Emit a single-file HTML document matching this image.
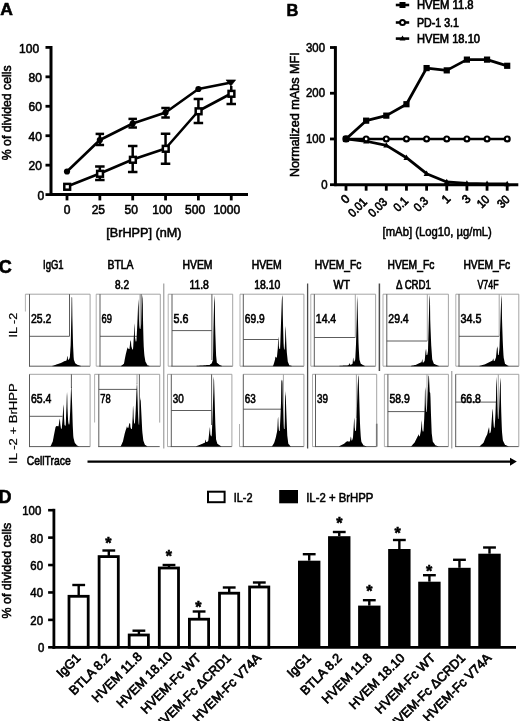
<!DOCTYPE html>
<html lang="en"><head><meta charset="utf-8"><title>Figure</title>
<style>html,body{margin:0;padding:0;background:#fff}svg{display:block}text{font-family:"Liberation Sans", sans-serif;fill:#000;stroke:#000;stroke-width:0.55px}.c text{stroke-width:0.65px}text.b{stroke-width:0.68px}text.g{stroke-width:0.62px}.c text.t{stroke-width:0.2px}</style></head><body>
<svg width="520" height="721" viewBox="0 0 520 721">
<rect width="520" height="721" fill="#fff"/>
<g id="panelA">
<text transform="translate(0.3,15) scale(1.12,1)" font-size="15.6" font-weight="bold">A</text>
<line x1="51" y1="46.0" x2="51" y2="196.0" stroke="#000" stroke-width="3"/>
<line x1="50" y1="194.6" x2="248" y2="194.6" stroke="#000" stroke-width="3"/>
<line x1="45.5" y1="194.6" x2="51" y2="194.6" stroke="#000" stroke-width="2.8"/>
<text transform="translate(44.3,199.7)" font-size="12" text-anchor="end">0</text>
<line x1="45.5" y1="165.16" x2="51" y2="165.16" stroke="#000" stroke-width="2.8"/>
<text transform="translate(41.9,170.26)" font-size="12" text-anchor="end">20</text>
<line x1="45.5" y1="135.72" x2="51" y2="135.72" stroke="#000" stroke-width="2.8"/>
<text transform="translate(41.9,140.82)" font-size="12" text-anchor="end">40</text>
<line x1="45.5" y1="106.28" x2="51" y2="106.28" stroke="#000" stroke-width="2.8"/>
<text transform="translate(41.9,111.38)" font-size="12" text-anchor="end">60</text>
<line x1="45.5" y1="76.84" x2="51" y2="76.84" stroke="#000" stroke-width="2.8"/>
<text transform="translate(41.9,81.94)" font-size="12" text-anchor="end">80</text>
<line x1="45.5" y1="47.400000000000006" x2="51" y2="47.400000000000006" stroke="#000" stroke-width="2.8"/>
<text transform="translate(39.1,52.5)" font-size="12" text-anchor="end">100</text>
<line x1="67.0" y1="194.6" x2="67.0" y2="200.4" stroke="#000" stroke-width="2.8"/>
<text transform="translate(67.0,214.3)" font-size="12" text-anchor="middle">0</text>
<line x1="99.85" y1="194.6" x2="99.85" y2="200.4" stroke="#000" stroke-width="2.8"/>
<text transform="translate(98.35,214.3)" font-size="12" text-anchor="middle">25</text>
<line x1="132.7" y1="194.6" x2="132.7" y2="200.4" stroke="#000" stroke-width="2.8"/>
<text transform="translate(131.2,214.3)" font-size="12" text-anchor="middle">50</text>
<line x1="165.55" y1="194.6" x2="165.55" y2="200.4" stroke="#000" stroke-width="2.8"/>
<text transform="translate(162.25,214.3)" font-size="12" text-anchor="middle">100</text>
<line x1="198.4" y1="194.6" x2="198.4" y2="200.4" stroke="#000" stroke-width="2.8"/>
<text transform="translate(195.1,214.3)" font-size="12" text-anchor="middle">500</text>
<line x1="231.25" y1="194.6" x2="231.25" y2="200.4" stroke="#000" stroke-width="2.8"/>
<text transform="translate(226.75,214.3)" font-size="12" text-anchor="middle">1000</text>
<text transform="translate(106.3,236.5)" font-size="12.8" textLength="75.2" lengthAdjust="spacingAndGlyphs">[BrHPP] (nM)</text>
<text transform="translate(11.2,112.8) rotate(-90)" font-size="12.3" text-anchor="middle">% of divided cells</text>
<polyline points="67.0,171.5 99.85,140 132.7,123.5 165.55,112.5 198.4,89 231.25,82.5" fill="none" stroke="#000" stroke-width="2.6" stroke-linejoin="round"/>
<polyline points="67.0,186.5 99.85,173.5 132.7,159.5 165.55,148.5 198.4,111 231.25,93.5" fill="none" stroke="#000" stroke-width="2.6" stroke-linejoin="round"/>
<line x1="99.85" y1="133.9" x2="99.85" y2="145" stroke="#000" stroke-width="2.5"/>
<line x1="95.6" y1="133.9" x2="104.1" y2="133.9" stroke="#000" stroke-width="2.5"/>
<line x1="95.6" y1="145" x2="104.1" y2="145" stroke="#000" stroke-width="2.5"/>
<line x1="132.7" y1="118.9" x2="132.7" y2="127.5" stroke="#000" stroke-width="2.5"/>
<line x1="128.45" y1="118.9" x2="136.95" y2="118.9" stroke="#000" stroke-width="2.5"/>
<line x1="128.45" y1="127.5" x2="136.95" y2="127.5" stroke="#000" stroke-width="2.5"/>
<line x1="165.55" y1="108" x2="165.55" y2="117.5" stroke="#000" stroke-width="2.5"/>
<line x1="161.3" y1="108" x2="169.8" y2="108" stroke="#000" stroke-width="2.5"/>
<line x1="161.3" y1="117.5" x2="169.8" y2="117.5" stroke="#000" stroke-width="2.5"/>
<line x1="99.85" y1="166.5" x2="99.85" y2="180" stroke="#000" stroke-width="2.5"/>
<line x1="95.1" y1="166.5" x2="104.6" y2="166.5" stroke="#000" stroke-width="2.5"/>
<line x1="95.1" y1="180" x2="104.6" y2="180" stroke="#000" stroke-width="2.5"/>
<line x1="132.7" y1="146" x2="132.7" y2="172" stroke="#000" stroke-width="2.5"/>
<line x1="127.94999999999999" y1="146" x2="137.45" y2="146" stroke="#000" stroke-width="2.5"/>
<line x1="127.94999999999999" y1="172" x2="137.45" y2="172" stroke="#000" stroke-width="2.5"/>
<line x1="165.55" y1="133.75" x2="165.55" y2="163.75" stroke="#000" stroke-width="2.5"/>
<line x1="160.8" y1="133.75" x2="170.3" y2="133.75" stroke="#000" stroke-width="2.5"/>
<line x1="160.8" y1="163.75" x2="170.3" y2="163.75" stroke="#000" stroke-width="2.5"/>
<line x1="198.4" y1="99" x2="198.4" y2="123" stroke="#000" stroke-width="2.5"/>
<line x1="193.65" y1="99" x2="203.15" y2="99" stroke="#000" stroke-width="2.5"/>
<line x1="193.65" y1="123" x2="203.15" y2="123" stroke="#000" stroke-width="2.5"/>
<line x1="231.25" y1="86" x2="231.25" y2="104" stroke="#000" stroke-width="2.5"/>
<line x1="226.5" y1="104" x2="236.0" y2="104" stroke="#000" stroke-width="2.5"/>
<circle cx="67.0" cy="171.5" r="3.1" fill="#000"/>
<circle cx="99.85" cy="140" r="3.1" fill="#000"/>
<circle cx="132.7" cy="123.5" r="3.1" fill="#000"/>
<circle cx="165.55" cy="112.5" r="3.1" fill="#000"/>
<circle cx="198.4" cy="89" r="3.1" fill="#000"/>
<polygon points="226.05,79.9 235.65,79.9 230.85,86.1" fill="#000" stroke="#000" stroke-width="0.6" stroke-linejoin="round"/>
<rect x="64.3" y="183.9" width="5.8" height="5.8" fill="#fff" stroke="#000" stroke-width="2.5"/>
<rect x="97.15" y="170.9" width="5.8" height="5.8" fill="#fff" stroke="#000" stroke-width="2.5"/>
<rect x="130.0" y="156.9" width="5.8" height="5.8" fill="#fff" stroke="#000" stroke-width="2.5"/>
<rect x="162.85" y="145.9" width="5.8" height="5.8" fill="#fff" stroke="#000" stroke-width="2.5"/>
<rect x="195.7" y="108.4" width="5.8" height="5.8" fill="#fff" stroke="#000" stroke-width="2.5"/>
<rect x="228.55" y="90.9" width="5.8" height="5.8" fill="#fff" stroke="#000" stroke-width="2.5"/>
</g>
<g id="panelB">
<text transform="translate(286.6,16.3) scale(1.03,1)" font-size="16" font-weight="bold">B</text>
<line x1="335.4" y1="46.1" x2="335.4" y2="186.1" stroke="#000" stroke-width="3"/>
<line x1="334.4" y1="184.7" x2="518.3" y2="184.7" stroke="#000" stroke-width="3"/>
<line x1="330.0" y1="184.7" x2="335.4" y2="184.7" stroke="#000" stroke-width="2.8"/>
<text transform="translate(327.6,188.7) scale(0.95,1)" font-size="12" text-anchor="end">0</text>
<line x1="330.0" y1="138.96666666666667" x2="335.4" y2="138.96666666666667" stroke="#000" stroke-width="2.8"/>
<text transform="translate(325,142.97) scale(0.95,1)" font-size="12" text-anchor="end">100</text>
<line x1="330.0" y1="93.23333333333333" x2="335.4" y2="93.23333333333333" stroke="#000" stroke-width="2.8"/>
<text transform="translate(325,97.23) scale(0.95,1)" font-size="12" text-anchor="end">200</text>
<line x1="330.0" y1="47.5" x2="335.4" y2="47.5" stroke="#000" stroke-width="2.8"/>
<text transform="translate(325,51.5) scale(0.95,1)" font-size="12" text-anchor="end">300</text>
<line x1="346.0" y1="184.7" x2="346.0" y2="190.7" stroke="#000" stroke-width="2.8"/>
<text transform="translate(350.5,199.6) rotate(-45)" font-size="12" text-anchor="end" class="b">0</text>
<line x1="366.15" y1="184.7" x2="366.15" y2="190.7" stroke="#000" stroke-width="2.8"/>
<text transform="translate(367.75,202.8) rotate(-45) scale(0.9,1)" font-size="12" text-anchor="end" class="b">0.01</text>
<line x1="386.3" y1="184.7" x2="386.3" y2="190.7" stroke="#000" stroke-width="2.8"/>
<text transform="translate(387.9,202.8) rotate(-45) scale(0.9,1)" font-size="12" text-anchor="end" class="b">0.03</text>
<line x1="406.45" y1="184.7" x2="406.45" y2="190.7" stroke="#000" stroke-width="2.8"/>
<text transform="translate(408.95,201.7) rotate(-45) scale(0.9,1)" font-size="12" text-anchor="end" class="b">0.1</text>
<line x1="426.6" y1="184.7" x2="426.6" y2="190.7" stroke="#000" stroke-width="2.8"/>
<text transform="translate(429.1,201.7) rotate(-45) scale(0.9,1)" font-size="12" text-anchor="end" class="b">0.3</text>
<line x1="446.75" y1="184.7" x2="446.75" y2="190.7" stroke="#000" stroke-width="2.8"/>
<text transform="translate(451.25,199.6) rotate(-45)" font-size="12" text-anchor="end" class="b">1</text>
<line x1="466.9" y1="184.7" x2="466.9" y2="190.7" stroke="#000" stroke-width="2.8"/>
<text transform="translate(471.4,199.6) rotate(-45)" font-size="12" text-anchor="end" class="b">3</text>
<line x1="487.05" y1="184.7" x2="487.05" y2="190.7" stroke="#000" stroke-width="2.8"/>
<text transform="translate(490.35,200.3) rotate(-45) scale(0.9,1)" font-size="12" text-anchor="end" class="b">10</text>
<line x1="507.2" y1="184.7" x2="507.2" y2="190.7" stroke="#000" stroke-width="2.8"/>
<text transform="translate(510.5,200.3) rotate(-45) scale(0.9,1)" font-size="12" text-anchor="end" class="b">30</text>
<text transform="translate(437.2,236.3)" font-size="12.3" text-anchor="middle" textLength="109.2" lengthAdjust="spacingAndGlyphs">[mAb] (Log10, µg/mL)</text>
<text transform="translate(299,114.7) rotate(-90)" font-size="12.5" text-anchor="middle" textLength="124.8" lengthAdjust="spacingAndGlyphs">Normalized mAbs MFI</text>
<polyline points="346.0,138.97 366.15,120.67 386.3,115.64 406.45,104.21 426.6,68.08 446.75,70.37 466.9,59.62 487.05,59.62 507.2,65.79" fill="none" stroke="#000" stroke-width="2.8" stroke-linejoin="round"/>
<polyline points="346.0,138.97 366.15,141.25 386.3,145.37 406.45,157.72 426.6,173.72 446.75,181.96 466.9,183.33 487.05,183.79 507.2,184.01" fill="none" stroke="#000" stroke-width="2.8" stroke-linejoin="round"/>
<polyline points="346.0,138.97 366.15,138.97 386.3,138.97 406.45,138.97 426.6,138.97 446.75,138.97 466.9,138.97 487.05,138.97 507.2,138.97" fill="none" stroke="#000" stroke-width="2.6" stroke-linejoin="round"/>
<rect x="342.9" y="135.87" width="6.2" height="6.2" fill="#000"/>
<rect x="363.05" y="117.57" width="6.2" height="6.2" fill="#000"/>
<rect x="383.2" y="112.54" width="6.2" height="6.2" fill="#000"/>
<rect x="403.35" y="101.11" width="6.2" height="6.2" fill="#000"/>
<rect x="423.5" y="64.98" width="6.2" height="6.2" fill="#000"/>
<rect x="443.65" y="67.27" width="6.2" height="6.2" fill="#000"/>
<rect x="463.8" y="56.52" width="6.2" height="6.2" fill="#000"/>
<rect x="483.95" y="56.52" width="6.2" height="6.2" fill="#000"/>
<rect x="504.1" y="62.69" width="6.2" height="6.2" fill="#000"/>
<polygon points="343.0,141.17 349.0,141.17 346.0,135.77" fill="#000"/>
<polygon points="363.15,143.45 369.15,143.45 366.15,138.05" fill="#000"/>
<polygon points="383.3,147.57 389.3,147.57 386.3,142.17000000000002" fill="#000"/>
<polygon points="403.45,159.92 409.45,159.92 406.45,154.52" fill="#000"/>
<polygon points="423.6,175.92 429.6,175.92 426.6,170.52" fill="#000"/>
<polygon points="443.75,184.16 449.75,184.16 446.75,178.76000000000002" fill="#000"/>
<polygon points="463.9,185.53 469.9,185.53 466.9,180.13000000000002" fill="#000"/>
<polygon points="484.05,185.98999999999998 490.05,185.98999999999998 487.05,180.59" fill="#000"/>
<polygon points="504.2,186.20999999999998 510.2,186.20999999999998 507.2,180.81" fill="#000"/>
<circle cx="346.0" cy="138.97" r="3.6" fill="#000"/>
<circle cx="366.15" cy="138.97" r="2.45" fill="#fff" stroke="#000" stroke-width="2.2"/>
<circle cx="386.3" cy="138.97" r="2.45" fill="#fff" stroke="#000" stroke-width="2.2"/>
<circle cx="406.45" cy="138.97" r="2.45" fill="#fff" stroke="#000" stroke-width="2.2"/>
<circle cx="426.6" cy="138.97" r="2.45" fill="#fff" stroke="#000" stroke-width="2.2"/>
<circle cx="446.75" cy="138.97" r="2.45" fill="#fff" stroke="#000" stroke-width="2.2"/>
<circle cx="466.9" cy="138.97" r="2.45" fill="#fff" stroke="#000" stroke-width="2.2"/>
<circle cx="487.05" cy="138.97" r="2.45" fill="#fff" stroke="#000" stroke-width="2.2"/>
<circle cx="507.2" cy="138.97" r="2.45" fill="#fff" stroke="#000" stroke-width="2.2"/>
<line x1="395.8" y1="5.000000000000001" x2="409.2" y2="5.000000000000001" stroke="#000" stroke-width="2.6"/>
<rect x="399.5" y="2.000000000000001" width="6" height="6" fill="#000"/>
<text transform="translate(417,9.3)" font-size="12" textLength="56.5" lengthAdjust="spacingAndGlyphs" class="b">HVEM 11.8</text>
<line x1="395.8" y1="22.5" x2="409.2" y2="22.5" stroke="#000" stroke-width="2.6"/>
<circle cx="402.5" cy="22.5" r="2.5" fill="#fff" stroke="#000" stroke-width="2"/>
<text transform="translate(417,26.8)" font-size="12" textLength="42" lengthAdjust="spacingAndGlyphs" class="b">PD-1 3.1</text>
<line x1="395.8" y1="38.6" x2="409.2" y2="38.6" stroke="#000" stroke-width="2.6"/>
<polygon points="399.5,40.6 405.5,40.6 402.5,35.4" fill="#000"/>
<text transform="translate(417,42.9)" font-size="12" textLength="63" lengthAdjust="spacingAndGlyphs" class="b">HVEM 18.10</text>
</g>
<g id="panelC" class="c">
<text transform="translate(-1.2,272.9)" font-size="18" font-weight="bold">C</text>
<text transform="translate(43,269.2)" font-size="12" textLength="20.5" lengthAdjust="spacingAndGlyphs">IgG1</text>
<text transform="translate(107.5,269.2)" font-size="12" textLength="26" lengthAdjust="spacingAndGlyphs">BTLA</text>
<text transform="translate(115,289.3)" font-size="12" textLength="14" lengthAdjust="spacingAndGlyphs">8.2</text>
<text transform="translate(182.5,269.2)" font-size="12" textLength="30" lengthAdjust="spacingAndGlyphs">HVEM</text>
<text transform="translate(189.4,289.3)" font-size="12" textLength="19.5" lengthAdjust="spacingAndGlyphs">11.8</text>
<text transform="translate(251.7,269.2)" font-size="12" textLength="30" lengthAdjust="spacingAndGlyphs">HVEM</text>
<text transform="translate(254.2,289.3)" font-size="12" textLength="26" lengthAdjust="spacingAndGlyphs">18.10</text>
<text transform="translate(314.7,269.2)" font-size="12" textLength="46.8" lengthAdjust="spacingAndGlyphs">HVEM_Fc</text>
<text transform="translate(333.5,289.3)" font-size="12" textLength="16.5" lengthAdjust="spacingAndGlyphs">WT</text>
<text transform="translate(387.5,269.2)" font-size="12" textLength="46.8" lengthAdjust="spacingAndGlyphs">HVEM_Fc</text>
<text transform="translate(396,289.3)" font-size="12" textLength="35" lengthAdjust="spacingAndGlyphs">Δ CRD1</text>
<text transform="translate(463.4,269.2)" font-size="12" textLength="46.8" lengthAdjust="spacingAndGlyphs">HVEM_Fc</text>
<text transform="translate(477.5,289.3)" font-size="12" textLength="21" lengthAdjust="spacingAndGlyphs">V74F</text>
<text transform="translate(16.7,337.4) rotate(-90)" font-size="10.5" textLength="24.6" lengthAdjust="spacingAndGlyphs" class="t">IL -2</text>
<text transform="translate(16.7,463.9) rotate(-90)" font-size="10.5" textLength="80.6" lengthAdjust="spacingAndGlyphs" class="t">IL -2 + BrHPP</text>
<line x1="163.8" y1="283.5" x2="163.8" y2="448.5" stroke="#8a8a8a" stroke-width="1"/>
<line x1="307.6" y1="283.5" x2="307.6" y2="448.5" stroke="#4a4a4a" stroke-width="1.3"/>
<line x1="379.4" y1="283.5" x2="379.4" y2="371" stroke="#4a4a4a" stroke-width="1.5"/>
<line x1="451.8" y1="371" x2="451.8" y2="448.5" stroke="#8a8a8a" stroke-width="1"/>
<line x1="25.4" y1="294.2" x2="25.4" y2="311.5" stroke="#a8a8a8" stroke-width="0.9"/>
<line x1="25.4" y1="294.2" x2="90.1" y2="294.2" stroke="#9a9a9a" stroke-width="0.9"/>
<line x1="29.0" y1="366.2" x2="29.5" y2="366.2" stroke="#9a9a9a" stroke-width="0.9"/>
<line x1="29.0" y1="366.2" x2="90.1" y2="366.2" stroke="#4a4a4a" stroke-width="0.9"/>
<line x1="29.5" y1="294.2" x2="29.5" y2="366.2" stroke="#4a4a4a" stroke-width="0.9"/>
<line x1="90.1" y1="294.2" x2="90.1" y2="366.2" stroke="#9a9a9a" stroke-width="0.9"/>
<line x1="29.5" y1="336.3" x2="69.5" y2="336.3" stroke="#4a4a4a" stroke-width="0.9"/>
<line x1="69.5" y1="294.2" x2="69.5" y2="336.3" stroke="#4a4a4a" stroke-width="0.9"/>
<path d="M52.38,366.2L52.38,365.8L52.63,365.8L52.88,365.8L53.13,365.7L53.38,365.6L53.63,365.5L53.88,365.4L54.13,365.3L54.38,365.2L54.63,365.2L54.88,365.1L55.13,365.0L55.38,364.9L55.63,364.8L55.88,364.7L56.13,364.6L56.38,364.5L56.63,364.4L56.88,364.3L57.13,364.3L57.38,364.2L57.63,364.1L57.88,364.0L58.13,363.9L58.38,363.8L58.63,363.7L58.88,363.7L59.13,363.6L59.38,363.5L59.63,363.4L59.88,363.3L60.13,363.2L60.38,363.2L60.63,363.1L60.88,363.0L61.13,362.9L61.38,362.8L61.63,362.6L61.88,362.5L62.13,362.4L62.38,362.2L62.63,362.1L62.88,362.0L63.13,361.8L63.38,361.7L63.63,361.6L63.88,361.4L64.13,361.3L64.38,361.2L64.63,361.1L64.88,361.0L65.13,361.0L65.38,360.9L65.63,360.8L65.88,360.7L66.13,360.7L66.38,360.6L66.63,359.9L66.88,358.9L67.13,356.8L67.38,355.9L67.63,356.8L67.88,359.0L68.13,359.7L68.38,359.7L68.63,359.7L68.88,359.5L69.13,359.0L69.38,358.5L69.63,358.0L69.88,356.7L70.13,352.9L70.38,349.1L70.63,345.3L70.88,336.0L71.13,325.5L71.38,315.3L71.63,297.7L71.88,296.8L72.13,297.7L72.38,317.9L72.63,328.3L72.88,338.6L73.13,346.8L73.38,351.8L73.63,356.9L73.88,359.8L74.13,360.5L74.38,361.1L74.63,361.7L74.88,362.4L75.13,363.0L75.38,363.4L75.63,363.6L75.88,363.8L76.13,363.9L76.38,364.1L76.63,364.3L76.88,364.5L77.13,364.6L77.38,364.8L77.63,364.9L77.88,365.0L78.13,365.0L78.38,365.1L78.63,365.2L78.88,365.3L79.13,365.4L79.38,365.5L79.63,365.5L79.88,365.6L80.13,365.7L80.38,365.8L80.63,365.8L80.83,366.2Z" fill="#000"/>
<text transform="translate(31.0,323.20000000000005)" font-size="12.6" textLength="20.4" lengthAdjust="spacingAndGlyphs" class="g">25.2</text>
<line x1="96.2" y1="294.2" x2="96.2" y2="366.2" stroke="#a8a8a8" stroke-width="0.9"/>
<line x1="96.2" y1="294.2" x2="160.3" y2="294.2" stroke="#9a9a9a" stroke-width="0.9"/>
<line x1="96.2" y1="366.2" x2="100" y2="366.2" stroke="#9a9a9a" stroke-width="0.9"/>
<line x1="99.5" y1="366.2" x2="160.3" y2="366.2" stroke="#4a4a4a" stroke-width="0.9"/>
<line x1="100" y1="294.2" x2="100" y2="366.2" stroke="#4a4a4a" stroke-width="0.9"/>
<line x1="160.3" y1="294.2" x2="160.3" y2="366.2" stroke="#9a9a9a" stroke-width="0.9"/>
<line x1="100" y1="336.3" x2="140" y2="336.3" stroke="#4a4a4a" stroke-width="0.9"/>
<line x1="140" y1="294.2" x2="140" y2="336.3" stroke="#9a9a9a" stroke-width="0.9"/>
<line x1="141.2" y1="294.2" x2="141.2" y2="330" stroke="#4a4a4a" stroke-width="0.9"/>
<path d="M120.97,366.2L120.97,365.8L121.22,365.8L121.47,365.7L121.72,365.5L121.97,365.3L122.22,365.1L122.47,364.9L122.72,364.7L122.97,364.5L123.22,364.3L123.47,364.1L123.72,363.9L123.97,363.6L124.22,362.3L124.47,361.0L124.72,359.6L124.97,358.3L125.22,357.0L125.47,355.7L125.72,354.6L125.97,353.6L126.22,352.6L126.47,351.6L126.72,350.6L126.97,349.6L127.22,348.8L127.47,347.9L127.72,347.5L127.82,347.4L127.97,347.6L128.22,348.4L128.47,348.8L128.72,349.1L128.97,349.1L129.22,349.1L129.47,348.9L129.72,346.6L129.97,344.4L130.22,342.1L130.47,341.2L130.72,340.3L130.77,340.0L130.97,341.3L131.22,345.2L131.47,346.8L131.72,347.6L131.97,348.4L132.22,349.1L132.47,349.5L132.72,349.5L132.97,349.5L133.22,346.4L133.47,342.3L133.72,338.3L133.97,334.2L134.22,325.6L134.37,323.3L134.47,324.8L134.72,328.7L134.97,337.0L135.22,338.6L135.47,340.1L135.72,341.4L135.97,341.4L136.22,341.4L136.47,340.3L136.72,335.5L136.97,330.8L137.22,326.1L137.47,320.6L137.72,314.4L137.97,308.1L138.22,302.3L138.37,298.9L138.47,301.1L138.72,306.8L138.97,320.0L139.22,325.3L139.47,327.5L139.72,328.4L139.97,329.1L140.22,329.1L140.47,329.1L140.72,328.3L140.97,326.1L141.22,323.9L141.47,318.2L141.72,312.0L141.97,306.1L142.22,298.4L142.47,295.0L142.72,298.4L142.97,318.1L143.22,329.2L143.47,339.2L143.72,346.3L143.97,349.9L144.22,353.4L144.47,356.0L144.72,357.5L144.97,359.0L145.22,360.5L145.47,361.7L145.72,362.2L145.97,362.6L146.22,363.0L146.47,363.5L146.72,363.9L146.97,364.4L147.22,364.8L147.47,365.2L147.72,365.4L147.97,365.5L148.22,365.5L148.47,365.6L148.72,365.7L148.97,365.8L149.22,365.8L149.42,366.2Z" fill="#000"/>
<text transform="translate(101.5,323.20000000000005)" font-size="12.6" textLength="10.4" lengthAdjust="spacingAndGlyphs" class="g">69</text>
<line x1="168.2" y1="294.2" x2="168.2" y2="366.2" stroke="#a8a8a8" stroke-width="0.9"/>
<line x1="168.2" y1="294.2" x2="232.7" y2="294.2" stroke="#9a9a9a" stroke-width="0.9"/>
<line x1="168.2" y1="366.2" x2="172" y2="366.2" stroke="#9a9a9a" stroke-width="0.9"/>
<line x1="171.5" y1="366.2" x2="232.7" y2="366.2" stroke="#4a4a4a" stroke-width="0.9"/>
<line x1="172" y1="294.2" x2="172" y2="366.2" stroke="#4a4a4a" stroke-width="0.9"/>
<line x1="232.7" y1="294.2" x2="232.7" y2="366.2" stroke="#9a9a9a" stroke-width="0.9"/>
<line x1="172" y1="330.6" x2="211.9" y2="330.6" stroke="#4a4a4a" stroke-width="0.9"/>
<line x1="211.9" y1="294.2" x2="211.9" y2="360" stroke="#4a4a4a" stroke-width="0.9"/>
<path d="M196.6,366.2L196.6,365.8L196.85,365.8L197.1,365.8L197.35,365.8L197.6,365.8L197.85,365.8L198.1,365.8L198.35,365.7L198.6,365.7L198.85,365.7L199.1,365.7L199.35,365.7L199.6,365.6L199.85,365.6L200.1,365.6L200.35,365.6L200.6,365.6L200.85,365.5L201.1,365.5L201.35,365.5L201.6,365.5L201.85,365.5L202.1,365.5L202.35,365.4L202.6,365.4L202.85,365.4L203.1,365.4L203.35,365.4L203.6,365.3L203.85,365.3L204.1,365.3L204.35,365.3L204.6,365.3L204.85,365.2L205.1,365.2L205.35,365.2L205.6,365.2L205.85,365.2L206.1,365.2L206.35,365.1L206.6,365.1L206.85,365.1L207.1,365.1L207.35,365.1L207.6,365.0L207.85,365.0L208.1,365.0L208.35,365.0L208.6,365.0L208.85,364.9L209.1,364.9L209.35,364.9L209.6,364.9L209.85,364.7L210.1,364.5L210.35,364.3L210.6,364.1L210.85,364.0L211.1,363.8L211.35,363.6L211.6,363.4L211.85,362.9L212.1,362.2L212.35,361.4L212.6,360.7L212.85,359.9L213.1,351.9L213.35,334.6L213.6,322.7L213.85,312.5L214.1,303.6L214.35,298.2L214.5,295.2L214.6,297.2L214.85,302.2L215.1,324.8L215.35,333.7L215.6,341.1L215.85,348.5L216.1,355.5L216.35,358.0L216.6,360.5L216.85,362.7L217.1,362.9L217.35,363.1L217.6,363.3L217.85,363.5L218.1,363.7L218.35,363.9L218.6,364.1L218.85,364.3L219.1,364.5L219.35,364.7L219.6,364.9L219.85,365.0L220.1,365.1L220.35,365.2L220.6,365.4L220.85,365.5L221.1,365.6L221.35,365.7L221.6,365.8L221.85,365.8L221.9,366.2Z" fill="#000"/>
<text transform="translate(173.5,323.20000000000005)" font-size="12.6" textLength="14.9" lengthAdjust="spacingAndGlyphs" class="g">5.6</text>
<line x1="240" y1="294.2" x2="240" y2="366.2" stroke="#a8a8a8" stroke-width="0.9"/>
<line x1="240" y1="294.2" x2="303.9" y2="294.2" stroke="#9a9a9a" stroke-width="0.9"/>
<line x1="240" y1="366.2" x2="243.3" y2="366.2" stroke="#9a9a9a" stroke-width="0.9"/>
<line x1="242.8" y1="366.2" x2="303.9" y2="366.2" stroke="#4a4a4a" stroke-width="0.9"/>
<line x1="243.3" y1="294.2" x2="243.3" y2="366.2" stroke="#4a4a4a" stroke-width="0.9"/>
<line x1="303.9" y1="294.2" x2="303.9" y2="366.2" stroke="#9a9a9a" stroke-width="0.9"/>
<line x1="243.3" y1="339.5" x2="278.4" y2="339.5" stroke="#4a4a4a" stroke-width="0.9"/>
<line x1="278.4" y1="294.2" x2="278.4" y2="339.5" stroke="none" stroke-width="0.9"/>
<path d="M272.82,366.2L272.82,365.8L273.07,365.8L273.32,365.3L273.57,364.5L273.82,363.7L274.07,362.9L274.32,362.0L274.57,361.2L274.82,360.3L275.07,359.3L275.32,356.9L275.47,356.4L275.57,356.7L275.82,357.2L276.07,357.5L276.32,357.6L276.57,357.6L276.82,357.6L277.07,355.5L277.32,352.9L277.57,350.4L277.82,347.9L278.07,340.9L278.32,337.7L278.42,336.4L278.57,338.4L278.82,345.9L279.07,347.2L279.32,348.4L279.57,348.9L279.82,348.9L280.07,348.9L280.32,343.3L280.57,335.9L280.82,328.4L281.07,321.2L281.32,314.3L281.57,307.3L281.82,300.4L282.07,296.8L282.27,294.9L282.32,295.4L282.57,297.7L282.82,314.9L283.07,325.4L283.32,334.4L283.57,343.0L283.82,347.0L284.07,349.5L284.32,349.5L284.57,349.5L284.82,346.4L285.07,341.2L285.32,330.7L285.57,327.4L285.67,326.0L285.82,328.0L286.07,336.5L286.32,342.2L286.57,347.9L286.82,352.2L287.07,354.7L287.32,357.1L287.57,359.6L287.82,361.7L288.07,362.3L288.32,362.9L288.57,363.5L288.82,364.1L289.07,364.7L289.32,365.2L289.57,365.4L289.82,365.4L290.07,365.5L290.32,365.6L290.57,365.6L290.82,365.7L291.07,365.7L291.32,365.8L291.57,365.8L291.77,366.2Z" fill="#000"/>
<text transform="translate(244.8,323.20000000000005)" font-size="12.6" textLength="19.9" lengthAdjust="spacingAndGlyphs" class="g">69.9</text>
<line x1="310.8" y1="294.2" x2="310.8" y2="366.2" stroke="#a8a8a8" stroke-width="0.9"/>
<line x1="310.8" y1="294.2" x2="375.6" y2="294.2" stroke="#9a9a9a" stroke-width="0.9"/>
<line x1="310.8" y1="366.2" x2="314.3" y2="366.2" stroke="#9a9a9a" stroke-width="0.9"/>
<line x1="313.8" y1="366.2" x2="375.6" y2="366.2" stroke="#4a4a4a" stroke-width="0.9"/>
<line x1="314.3" y1="294.2" x2="314.3" y2="366.2" stroke="#4a4a4a" stroke-width="0.9"/>
<line x1="375.6" y1="294.2" x2="375.6" y2="366.2" stroke="#9a9a9a" stroke-width="0.9"/>
<line x1="314.3" y1="337.5" x2="355.3" y2="337.5" stroke="#4a4a4a" stroke-width="0.9"/>
<line x1="355.3" y1="294.2" x2="355.3" y2="337.5" stroke="#9a9a9a" stroke-width="0.9"/>
<path d="M339.49,366.2L339.49,365.8L339.74,365.8L339.99,365.8L340.24,365.8L340.49,365.8L340.74,365.8L340.99,365.8L341.24,365.8L341.49,365.7L341.74,365.7L341.99,365.7L342.24,365.7L342.49,365.7L342.74,365.7L342.99,365.6L343.24,365.6L343.49,365.6L343.74,365.6L343.99,365.6L344.24,365.6L344.49,365.5L344.74,365.5L344.99,365.5L345.24,365.5L345.49,365.5L345.74,365.5L345.99,365.5L346.24,365.4L346.49,365.4L346.74,365.4L346.99,365.4L347.24,365.4L347.49,365.4L347.74,365.3L347.99,365.3L348.24,365.3L348.49,365.0L348.74,364.7L348.99,364.4L349.24,363.6L349.49,363.2L349.74,363.6L349.99,364.4L350.24,364.8L350.49,364.8L350.74,364.8L350.99,364.7L351.24,364.6L351.49,364.4L351.74,364.2L351.99,364.1L352.24,363.9L352.49,363.7L352.74,362.3L352.99,358.7L353.19,357.5L353.24,357.8L353.49,359.3L353.74,361.6L353.99,361.6L354.24,361.6L354.49,361.4L354.74,360.8L354.99,360.1L355.24,359.5L355.49,354.5L355.74,349.5L355.99,344.4L356.24,335.5L356.49,326.6L356.74,317.8L356.99,299.9L357.14,295.7L357.24,298.5L357.49,303.1L357.74,312.0L357.99,321.3L358.24,331.8L358.49,342.2L358.74,348.0L358.99,352.4L359.24,356.7L359.49,359.8L359.74,360.6L359.99,361.3L360.24,362.1L360.49,362.9L360.74,363.6L360.99,363.9L361.24,364.0L361.49,364.1L361.74,364.3L361.99,364.4L362.24,364.6L362.49,364.7L362.74,364.9L362.99,365.0L363.24,365.1L363.49,365.3L363.74,365.4L363.99,365.6L364.24,365.7L364.49,365.8L364.74,365.8L364.79,366.2Z" fill="#000"/>
<text transform="translate(315.8,323.20000000000005)" font-size="12.6" textLength="20.4" lengthAdjust="spacingAndGlyphs" class="g">14.4</text>
<line x1="383" y1="294.2" x2="383" y2="366.2" stroke="#a8a8a8" stroke-width="0.9"/>
<line x1="383" y1="294.2" x2="448.4" y2="294.2" stroke="#9a9a9a" stroke-width="0.9"/>
<line x1="383" y1="366.2" x2="386.8" y2="366.2" stroke="#9a9a9a" stroke-width="0.9"/>
<line x1="386.3" y1="366.2" x2="448.4" y2="366.2" stroke="#4a4a4a" stroke-width="0.9"/>
<line x1="386.8" y1="294.2" x2="386.8" y2="366.2" stroke="#4a4a4a" stroke-width="0.9"/>
<line x1="448.4" y1="294.2" x2="448.4" y2="366.2" stroke="#9a9a9a" stroke-width="0.9"/>
<line x1="386.8" y1="341" x2="427.3" y2="341" stroke="#4a4a4a" stroke-width="0.9"/>
<line x1="427.3" y1="294.2" x2="427.3" y2="341" stroke="#9a9a9a" stroke-width="0.9"/>
<path d="M410.97,366.2L410.97,365.8L411.22,365.8L411.47,365.8L411.72,365.8L411.97,365.7L412.22,365.6L412.47,365.6L412.72,365.5L412.97,365.5L413.22,365.4L413.47,365.4L413.72,365.3L413.97,365.2L414.22,365.2L414.47,365.1L414.72,365.1L414.97,365.0L415.22,365.0L415.47,364.9L415.72,364.9L415.97,364.8L416.22,364.7L416.47,364.6L416.72,364.5L416.97,364.3L417.22,364.2L417.47,364.1L417.72,364.0L417.97,363.8L418.22,363.7L418.47,363.6L418.72,363.5L418.97,363.3L419.22,363.2L419.47,363.1L419.72,363.0L419.97,362.9L420.22,362.8L420.47,362.6L420.72,362.5L420.97,362.4L421.22,362.3L421.47,362.2L421.72,361.6L421.97,360.4L422.22,359.3L422.27,359.1L422.47,359.9L422.72,362.5L422.97,362.6L423.22,362.6L423.47,362.6L423.72,362.2L423.97,361.8L424.22,361.4L424.47,361.0L424.72,360.5L424.97,357.7L425.22,354.9L425.47,352.1L425.72,350.6L425.97,348.9L426.02,348.5L426.22,350.0L426.47,354.7L426.72,355.1L426.97,355.1L427.22,355.1L427.47,354.0L427.72,352.6L427.97,351.1L428.22,342.2L428.47,332.9L428.72,323.6L428.97,314.0L429.22,304.3L429.47,296.8L429.62,294.9L429.72,296.2L429.97,299.3L430.22,319.2L430.47,326.9L430.72,333.1L430.97,339.3L431.22,345.2L431.47,348.7L431.72,352.2L431.97,355.7L432.22,359.2L432.47,360.1L432.72,360.8L432.97,361.5L433.22,362.1L433.47,362.8L433.72,363.5L433.97,363.8L434.22,363.9L434.47,364.0L434.72,364.1L434.97,364.2L435.22,364.4L435.47,364.5L435.72,364.6L435.97,364.7L436.22,364.8L436.47,364.9L436.72,365.0L436.97,365.1L437.22,365.2L437.47,365.4L437.72,365.5L437.97,365.6L438.22,365.7L438.47,365.8L438.72,365.8L438.92,366.2Z" fill="#000"/>
<text transform="translate(388.3,323.20000000000005)" font-size="12.6" textLength="20.4" lengthAdjust="spacingAndGlyphs" class="g">29.4</text>
<line x1="455.8" y1="294.2" x2="455.8" y2="366.2" stroke="#a8a8a8" stroke-width="0.9"/>
<line x1="455.8" y1="294.2" x2="518.8" y2="294.2" stroke="#9a9a9a" stroke-width="0.9"/>
<line x1="455.8" y1="366.2" x2="459" y2="366.2" stroke="#9a9a9a" stroke-width="0.9"/>
<line x1="458.5" y1="366.2" x2="518.8" y2="366.2" stroke="#4a4a4a" stroke-width="0.9"/>
<line x1="459" y1="294.2" x2="459" y2="366.2" stroke="#4a4a4a" stroke-width="0.9"/>
<line x1="518.8" y1="294.2" x2="518.8" y2="366.2" stroke="#9a9a9a" stroke-width="0.9"/>
<line x1="459" y1="336.3" x2="499.2" y2="336.3" stroke="#4a4a4a" stroke-width="0.9"/>
<line x1="499.2" y1="294.2" x2="499.2" y2="336.3" stroke="#9a9a9a" stroke-width="0.9"/>
<path d="M479.49,366.2L479.49,365.8L479.74,365.8L479.99,365.8L480.24,365.7L480.49,365.6L480.74,365.6L480.99,365.5L481.24,365.4L481.49,365.3L481.74,365.3L481.99,365.2L482.24,365.1L482.49,365.0L482.74,365.0L482.99,364.9L483.24,364.8L483.49,364.7L483.74,364.7L483.99,364.6L484.24,364.5L484.49,364.4L484.74,364.4L484.99,364.3L485.24,364.2L485.49,364.1L485.74,363.9L485.99,363.8L486.24,363.7L486.49,363.6L486.74,363.4L486.99,363.3L487.24,363.2L487.49,363.1L487.74,362.9L487.99,362.8L488.24,362.7L488.49,362.6L488.74,362.4L488.99,362.3L489.24,362.2L489.49,362.1L489.74,361.9L489.99,361.8L490.24,361.7L490.49,361.6L490.74,361.4L490.99,361.3L491.24,361.2L491.49,361.1L491.74,360.9L491.99,360.8L492.24,360.7L492.49,360.6L492.74,360.1L492.99,358.9L493.19,358.5L493.24,358.6L493.49,359.2L493.74,360.7L493.99,361.0L494.24,361.0L494.49,361.0L494.74,360.7L494.99,360.1L495.24,359.4L495.49,358.7L495.74,358.0L495.99,357.3L496.24,354.8L496.49,352.3L496.74,349.8L496.99,347.8L497.24,347.4L497.39,345.9L497.49,346.9L497.74,349.3L497.99,355.1L498.24,355.1L498.49,355.1L498.74,354.4L498.99,352.5L499.24,350.6L499.49,348.1L499.74,340.6L499.99,333.2L500.24,325.7L500.49,318.7L500.74,311.8L500.99,304.9L501.24,298.8L501.49,294.9L501.74,298.8L501.99,317.7L502.24,326.5L502.49,333.6L502.74,340.8L502.99,346.6L503.24,350.9L503.49,355.2L503.74,358.0L503.99,359.1L504.24,360.3L504.49,361.4L504.74,362.6L504.99,363.7L505.24,363.9L505.49,364.1L505.74,364.2L505.99,364.4L506.24,364.6L506.49,364.7L506.74,364.9L506.99,365.1L507.24,365.2L507.49,365.4L507.74,365.6L507.99,365.7L508.24,365.8L508.49,365.8L508.49,366.2Z" fill="#000"/>
<text transform="translate(460.5,323.20000000000005)" font-size="12.6" textLength="20.9" lengthAdjust="spacingAndGlyphs" class="g">34.5</text>
<line x1="29.5" y1="374.3" x2="90.1" y2="374.3" stroke="#9a9a9a" stroke-width="0.9"/>
<line x1="29.0" y1="446.6" x2="29.5" y2="446.6" stroke="#9a9a9a" stroke-width="0.9"/>
<line x1="29.0" y1="446.6" x2="90.1" y2="446.6" stroke="#4a4a4a" stroke-width="0.9"/>
<line x1="29.5" y1="374.3" x2="29.5" y2="446.6" stroke="#4a4a4a" stroke-width="0.9"/>
<line x1="90.1" y1="374.3" x2="90.1" y2="446.6" stroke="#9a9a9a" stroke-width="0.9"/>
<line x1="29.5" y1="416.3" x2="62.5" y2="416.3" stroke="#4a4a4a" stroke-width="0.9"/>
<line x1="71.4" y1="374.3" x2="71.4" y2="388" stroke="#4a4a4a" stroke-width="0.9"/>
<path d="M50.27,446.6L50.27,446.1L50.52,446.1L50.77,445.7L51.02,445.2L51.27,444.7L51.52,444.2L51.77,443.6L52.02,443.1L52.27,442.6L52.52,442.1L52.77,441.4L53.02,440.1L53.27,438.8L53.52,437.4L53.77,436.1L54.02,434.8L54.27,433.4L54.52,432.2L54.77,430.9L55.02,429.7L55.27,428.4L55.52,427.2L55.77,426.7L56.02,426.5L56.27,426.3L56.52,426.1L56.62,426.1L56.77,426.0L57.02,426.1L57.27,426.1L57.52,426.2L57.77,426.3L58.02,426.3L58.27,426.3L58.52,426.3L58.77,424.7L59.02,423.0L59.27,421.3L59.52,420.0L59.77,418.4L60.02,420.0L60.27,423.8L60.52,425.5L60.77,427.3L61.02,428.7L61.27,428.7L61.52,428.7L61.77,428.2L62.02,425.3L62.27,422.5L62.52,419.7L62.77,415.5L63.02,411.3L63.27,406.8L63.47,404.3L63.52,404.9L63.77,408.1L64.02,416.9L64.27,421.1L64.52,424.8L64.77,425.3L65.02,425.7L65.27,425.7L65.52,425.7L65.77,424.2L66.02,417.5L66.27,410.8L66.52,404.4L66.77,396.3L67.02,392.1L67.27,396.3L67.52,408.0L67.77,413.7L68.02,419.4L68.27,421.9L68.52,423.5L68.77,424.5L69.02,424.5L69.27,424.5L69.52,422.7L69.77,418.4L70.02,414.1L70.27,408.7L70.52,402.3L70.77,395.9L71.02,388.6L71.27,386.2L71.52,388.6L71.77,395.0L72.02,402.0L72.27,410.0L72.52,418.4L72.77,425.9L73.02,431.0L73.27,436.0L73.52,438.1L73.77,439.1L74.02,440.0L74.27,441.0L74.52,441.9L74.77,442.8L75.02,443.1L75.27,443.4L75.52,443.7L75.77,444.0L76.02,444.3L76.27,444.6L76.52,444.9L76.77,445.2L77.02,445.4L77.27,445.6L77.52,445.7L77.77,445.8L78.02,446.0L78.27,446.1L78.52,446.1L78.72,446.6Z" fill="#000"/>
<text transform="translate(31.0,402.8)" font-size="12.6" textLength="20.4" lengthAdjust="spacingAndGlyphs" class="g">65.4</text>
<line x1="94.6" y1="374.3" x2="94.6" y2="422.5" stroke="#a8a8a8" stroke-width="0.9"/>
<line x1="94.6" y1="374.3" x2="159.7" y2="374.3" stroke="#9a9a9a" stroke-width="0.9"/>
<line x1="98.3" y1="446.6" x2="98.8" y2="446.6" stroke="#9a9a9a" stroke-width="0.9"/>
<line x1="98.3" y1="446.6" x2="159.7" y2="446.6" stroke="#4a4a4a" stroke-width="0.9"/>
<line x1="98.8" y1="374.3" x2="98.8" y2="446.6" stroke="#4a4a4a" stroke-width="0.9"/>
<line x1="159.7" y1="374.3" x2="159.7" y2="422.6" stroke="#9a9a9a" stroke-width="0.9"/>
<line x1="98.8" y1="389.4" x2="137" y2="389.4" stroke="#4a4a4a" stroke-width="0.9"/>
<line x1="137" y1="374.3" x2="137" y2="384" stroke="#9a9a9a" stroke-width="0.9"/>
<line x1="139.4" y1="374.3" x2="139.4" y2="424" stroke="#4a4a4a" stroke-width="0.9"/>
<path d="M120.44,446.6L120.44,446.2L120.69,446.2L120.94,445.8L121.19,445.3L121.44,444.8L121.69,444.2L121.94,443.7L122.19,443.1L122.44,442.6L122.69,442.1L122.94,441.4L123.19,440.3L123.44,439.2L123.69,438.1L123.94,437.0L124.19,435.9L124.44,434.8L124.69,433.7L124.94,432.7L125.19,431.9L125.44,431.0L125.69,430.2L125.94,429.4L126.19,428.7L126.44,428.2L126.69,426.9L126.94,426.4L126.99,426.3L127.19,426.7L127.44,427.5L127.69,427.9L127.94,427.9L128.19,427.9L128.44,427.6L128.69,426.4L128.94,425.1L129.19,423.9L129.44,423.5L129.69,423.2L129.89,422.7L129.94,422.9L130.19,424.0L130.44,426.9L130.69,428.0L130.94,428.4L131.19,428.8L131.44,428.9L131.69,428.9L131.94,428.9L132.19,425.2L132.44,420.9L132.69,416.6L132.94,407.6L133.09,405.4L133.19,406.9L133.44,410.6L133.69,418.3L133.94,420.9L134.19,423.4L134.44,423.4L134.69,423.4L134.94,423.3L135.19,419.0L135.44,414.7L135.69,410.3L135.94,404.6L136.19,398.4L136.44,392.1L136.69,386.7L136.94,383.3L136.99,382.6L137.19,385.4L137.44,394.8L137.69,403.1L137.94,411.5L138.19,417.0L138.44,421.2L138.69,424.6L138.94,424.6L139.19,424.6L139.44,422.5L139.69,416.3L139.94,403.1L140.19,398.7L140.29,396.9L140.44,399.6L140.69,400.0L140.94,405.0L141.19,410.0L141.44,415.0L141.69,420.0L141.94,425.0L142.19,430.1L142.44,432.9L142.69,435.1L142.94,437.3L143.19,439.6L143.44,440.9L143.69,441.6L143.94,442.3L144.19,442.9L144.44,443.6L144.69,444.3L144.94,444.8L145.19,445.0L145.44,445.1L145.69,445.3L145.94,445.5L146.19,445.6L146.44,445.8L146.69,446.0L146.94,446.1L147.19,446.2L147.34,446.6Z" fill="#000"/>
<text transform="translate(100.3,402.8)" font-size="12.6" textLength="10.4" lengthAdjust="spacingAndGlyphs" class="g">78</text>
<line x1="167.5" y1="374.3" x2="167.5" y2="446.6" stroke="#a8a8a8" stroke-width="0.9"/>
<line x1="167.5" y1="374.3" x2="231.9" y2="374.3" stroke="#9a9a9a" stroke-width="0.9"/>
<line x1="167.5" y1="446.6" x2="171.3" y2="446.6" stroke="#9a9a9a" stroke-width="0.9"/>
<line x1="170.8" y1="446.6" x2="231.9" y2="446.6" stroke="#4a4a4a" stroke-width="0.9"/>
<line x1="171.3" y1="374.3" x2="171.3" y2="446.6" stroke="#4a4a4a" stroke-width="0.9"/>
<line x1="231.9" y1="374.3" x2="231.9" y2="446.6" stroke="#9a9a9a" stroke-width="0.9"/>
<line x1="171.3" y1="410.5" x2="211.6" y2="410.5" stroke="#4a4a4a" stroke-width="0.9"/>
<line x1="211.6" y1="374.3" x2="211.6" y2="425" stroke="#4a4a4a" stroke-width="0.9"/>
<path d="M196.08,446.6L196.08,446.2L196.33,446.2L196.58,446.1L196.83,446.0L197.08,445.9L197.33,445.8L197.58,445.7L197.83,445.6L198.08,445.5L198.33,445.4L198.58,445.3L198.83,445.2L199.08,445.1L199.33,445.0L199.58,444.9L199.83,444.8L200.08,444.7L200.33,444.6L200.58,444.5L200.83,444.4L201.08,444.3L201.33,444.2L201.58,444.1L201.83,444.0L202.08,443.9L202.33,443.8L202.58,443.7L202.83,443.5L203.08,443.4L203.33,443.3L203.58,443.2L203.83,443.1L204.08,443.0L204.33,442.9L204.58,442.8L204.83,442.7L205.08,442.0L205.33,440.2L205.58,439.5L205.83,440.2L206.08,441.7L206.33,442.1L206.58,442.1L206.83,442.1L207.08,442.0L207.33,441.7L207.58,441.5L207.83,441.2L208.08,440.9L208.33,440.6L208.58,438.5L208.83,436.2L209.08,434.0L209.33,431.7L209.58,429.8L209.83,427.4L209.88,426.9L210.08,428.8L210.33,434.4L210.58,435.1L210.83,435.8L211.08,436.2L211.33,436.2L211.58,436.2L211.83,433.8L212.08,428.1L212.33,422.4L212.58,415.7L212.83,407.9L213.08,400.0L213.33,392.4L213.58,379.3L213.73,376.3L213.83,378.3L214.08,380.5L214.33,388.9L214.58,397.4L214.83,406.2L215.08,415.1L215.33,424.0L215.58,429.4L215.83,434.5L216.08,439.5L216.33,440.3L216.58,441.2L216.83,442.0L217.08,442.8L217.33,443.7L217.58,443.9L217.83,444.0L218.08,444.2L218.33,444.4L218.58,444.5L218.83,444.7L219.08,444.9L219.33,445.0L219.58,445.2L219.83,445.4L220.08,445.5L220.33,445.7L220.58,445.9L220.83,446.0L221.08,446.2L221.33,446.2L221.38,446.6Z" fill="#000"/>
<text transform="translate(172.8,402.8)" font-size="12.6" textLength="11.0" lengthAdjust="spacingAndGlyphs" class="g">30</text>
<line x1="239.5" y1="424" x2="239.5" y2="446.6" stroke="#a8a8a8" stroke-width="0.9"/>
<line x1="243.3" y1="374.3" x2="303.9" y2="374.3" stroke="#9a9a9a" stroke-width="0.9"/>
<line x1="239.5" y1="446.6" x2="243.3" y2="446.6" stroke="#9a9a9a" stroke-width="0.9"/>
<line x1="242.8" y1="446.6" x2="303.9" y2="446.6" stroke="#4a4a4a" stroke-width="0.9"/>
<line x1="243.3" y1="374.3" x2="243.3" y2="446.6" stroke="#4a4a4a" stroke-width="0.9"/>
<line x1="303.9" y1="374.3" x2="303.9" y2="446.6" stroke="#9a9a9a" stroke-width="0.9"/>
<line x1="243.3" y1="409.2" x2="281" y2="409.2" stroke="#4a4a4a" stroke-width="0.9"/>
<line x1="283.4" y1="374.3" x2="283.4" y2="430" stroke="#9a9a9a" stroke-width="0.9"/>
<path d="M271.77,446.6L271.77,446.2L272.02,446.2L272.27,445.9L272.52,445.5L272.77,445.1L273.02,444.7L273.27,444.3L273.52,443.9L273.77,443.4L274.02,443.0L274.27,442.5L274.52,441.7L274.77,440.9L275.02,440.0L275.27,439.2L275.52,438.4L275.77,437.5L276.02,436.4L276.27,435.3L276.52,434.1L276.77,433.0L277.02,431.8L277.27,429.7L277.52,425.7L277.77,420.0L278.02,417.1L278.07,416.5L278.27,418.8L278.52,426.1L278.77,428.7L279.02,430.9L279.27,430.9L279.52,430.9L279.77,429.9L280.02,424.9L280.27,419.9L280.52,415.0L280.77,408.9L281.02,402.6L281.27,385.5L281.47,378.5L281.52,380.3L281.77,380.3L282.02,381.1L282.17,379.4L282.27,380.5L282.52,383.3L282.77,402.2L283.02,410.0L283.27,417.5L283.52,423.8L283.77,427.5L284.02,429.0L284.27,429.0L284.52,429.0L284.77,421.3L285.02,399.4L285.27,391.0L285.52,394.4L285.77,396.2L286.02,403.4L286.27,410.5L286.52,417.2L286.77,423.5L287.02,429.8L287.27,435.5L287.52,437.5L287.77,439.5L288.02,441.5L288.27,443.5L288.52,444.0L288.77,444.3L289.02,444.6L289.27,444.8L289.52,445.1L289.77,445.4L290.02,445.7L290.27,446.0L290.52,446.1L290.72,446.6Z" fill="#000"/>
<text transform="translate(244.8,402.8)" font-size="12.6" textLength="11.0" lengthAdjust="spacingAndGlyphs" class="g">63</text>
<line x1="312.5" y1="374.3" x2="312.5" y2="446.6" stroke="#a8a8a8" stroke-width="0.9"/>
<line x1="312.5" y1="374.3" x2="376.7" y2="374.3" stroke="#9a9a9a" stroke-width="0.9"/>
<line x1="312.5" y1="446.6" x2="315.5" y2="446.6" stroke="#9a9a9a" stroke-width="0.9"/>
<line x1="315.0" y1="446.6" x2="376.7" y2="446.6" stroke="#4a4a4a" stroke-width="0.9"/>
<line x1="315.5" y1="374.3" x2="315.5" y2="446.6" stroke="#4a4a4a" stroke-width="0.9"/>
<line x1="376.7" y1="374.3" x2="376.7" y2="446.6" stroke="#9a9a9a" stroke-width="0.9"/>
<line x1="356.4" y1="374.3" x2="356.4" y2="418" stroke="#9a9a9a" stroke-width="0.9"/>
<path d="M338.97,446.6L338.97,446.2L339.22,446.2L339.47,446.1L339.72,446.0L339.97,445.8L340.22,445.7L340.47,445.6L340.72,445.4L340.97,445.3L341.22,445.2L341.47,445.1L341.72,444.9L341.97,444.8L342.22,444.7L342.47,444.5L342.72,444.4L342.97,444.3L343.22,444.2L343.47,444.0L343.72,443.9L343.97,443.8L344.22,443.6L344.47,443.4L344.72,443.2L344.97,443.0L345.22,442.8L345.47,442.6L345.72,442.3L345.97,442.1L346.22,441.9L346.47,441.7L346.72,441.5L346.92,441.3L346.97,441.3L347.22,441.2L347.47,441.3L347.72,441.3L347.97,441.4L348.22,441.4L348.47,441.5L348.72,441.5L348.97,441.6L349.22,441.6L349.47,441.6L349.72,441.6L349.97,441.1L350.22,439.8L350.47,438.6L350.72,437.1L350.87,436.4L350.97,436.9L351.22,438.0L351.47,440.5L351.72,440.5L351.97,440.5L352.22,440.1L352.47,439.3L352.72,438.4L352.97,437.6L353.22,434.1L353.47,429.9L353.72,425.6L353.97,421.3L354.22,418.1L354.27,417.5L354.47,420.1L354.72,427.3L354.97,429.0L355.22,430.7L355.47,431.0L355.72,431.0L355.97,431.0L356.22,425.6L356.47,419.9L356.72,414.2L356.97,406.4L357.22,398.7L357.47,390.9L357.72,385.4L357.97,381.5L358.22,377.1L358.47,375.0L358.72,377.1L358.97,388.1L359.22,397.1L359.47,406.0L359.72,414.4L359.97,422.7L360.22,427.9L360.47,432.1L360.72,435.9L360.97,438.4L361.22,440.8L361.47,441.9L361.72,442.4L361.97,442.8L362.22,443.2L362.47,443.7L362.72,444.1L362.97,444.5L363.22,445.0L363.47,445.3L363.72,445.4L363.97,445.5L364.22,445.6L364.47,445.7L364.72,445.7L364.97,445.8L365.22,445.9L365.47,446.0L365.72,446.1L365.97,446.1L366.22,446.2L366.37,446.6Z" fill="#000"/>
<text transform="translate(317.0,402.8)" font-size="12.6" textLength="11.0" lengthAdjust="spacingAndGlyphs" class="g">39</text>
<line x1="376.7" y1="423.7" x2="376.7" y2="446.6" stroke="#777" stroke-width="1.6"/>
<line x1="384.4" y1="374.3" x2="384.4" y2="446.6" stroke="#a8a8a8" stroke-width="0.9"/>
<line x1="384.4" y1="374.3" x2="448.4" y2="374.3" stroke="#9a9a9a" stroke-width="0.9"/>
<line x1="384.4" y1="446.6" x2="387.9" y2="446.6" stroke="#9a9a9a" stroke-width="0.9"/>
<line x1="387.4" y1="446.6" x2="448.4" y2="446.6" stroke="#4a4a4a" stroke-width="0.9"/>
<line x1="387.9" y1="374.3" x2="387.9" y2="446.6" stroke="#4a4a4a" stroke-width="0.9"/>
<line x1="448.4" y1="374.3" x2="448.4" y2="446.6" stroke="#9a9a9a" stroke-width="0.9"/>
<line x1="387.9" y1="411.6" x2="424.8" y2="411.6" stroke="#4a4a4a" stroke-width="0.9"/>
<line x1="427" y1="374.3" x2="427" y2="420" stroke="#9a9a9a" stroke-width="0.9"/>
<path d="M410.97,446.6L410.97,446.2L411.22,446.2L411.47,446.0L411.72,445.7L411.97,445.4L412.22,445.2L412.47,444.9L412.72,444.6L412.97,444.3L413.22,444.1L413.47,443.8L413.72,443.5L413.97,443.2L414.22,443.0L414.47,442.7L414.72,442.2L414.97,441.7L415.22,441.2L415.47,440.7L415.72,440.2L415.97,439.7L416.22,439.2L416.47,438.7L416.72,438.2L416.97,437.7L417.22,437.2L417.47,436.7L417.72,436.2L417.97,435.7L418.22,435.1L418.47,434.5L418.57,434.3L418.72,434.6L418.97,436.1L419.22,436.3L419.47,436.3L419.72,436.3L419.97,435.3L420.22,434.0L420.47,432.8L420.72,431.5L420.97,429.2L421.22,426.4L421.47,423.5L421.72,421.2L421.82,420.0L421.97,421.8L422.22,429.0L422.47,430.2L422.72,431.5L422.97,431.5L423.22,431.5L423.47,431.3L423.72,427.2L423.97,423.1L424.22,418.6L424.47,411.4L424.72,404.2L424.97,391.2L425.22,386.9L425.47,391.2L425.72,402.7L425.97,408.6L426.22,412.1L426.47,412.1L426.72,412.1L426.97,408.7L427.22,403.1L427.47,397.6L427.72,392.0L427.97,386.6L428.22,381.2L428.47,376.0L428.67,375.2L428.72,375.4L428.97,376.4L429.22,381.4L429.47,386.8L429.72,392.1L429.97,392.5L430.22,392.9L430.47,397.5L430.72,405.8L430.97,414.2L431.22,420.6L431.47,427.0L431.72,433.3L431.97,435.3L432.22,437.2L432.47,439.2L432.72,441.2L432.97,441.9L433.22,442.2L433.47,442.6L433.72,442.9L433.97,443.3L434.22,443.6L434.47,444.0L434.72,444.3L434.97,444.7L435.22,445.0L435.47,445.3L435.72,445.4L435.97,445.5L436.22,445.6L436.47,445.7L436.72,445.7L436.97,445.8L437.22,445.9L437.47,446.0L437.72,446.1L437.97,446.1L438.22,446.2L438.37,446.6Z" fill="#000"/>
<text transform="translate(389.4,402.8)" font-size="12.6" textLength="20.4" lengthAdjust="spacingAndGlyphs" class="g">58.9</text>
<line x1="455.7" y1="374.3" x2="518.8" y2="374.3" stroke="#9a9a9a" stroke-width="0.9"/>
<line x1="455.2" y1="446.6" x2="455.7" y2="446.6" stroke="#9a9a9a" stroke-width="0.9"/>
<line x1="455.2" y1="446.6" x2="518.8" y2="446.6" stroke="#4a4a4a" stroke-width="0.9"/>
<line x1="455.7" y1="374.3" x2="455.7" y2="446.6" stroke="#4a4a4a" stroke-width="0.9"/>
<line x1="518.8" y1="374.3" x2="518.8" y2="446.6" stroke="#9a9a9a" stroke-width="0.9"/>
<line x1="455.7" y1="402.1" x2="496.5" y2="402.1" stroke="#4a4a4a" stroke-width="0.9"/>
<line x1="498.3" y1="374.3" x2="498.3" y2="420" stroke="#9a9a9a" stroke-width="0.9"/>
<path d="M479.49,446.6L479.49,446.2L479.74,446.2L479.99,446.0L480.24,445.8L480.49,445.5L480.74,445.3L480.99,445.1L481.24,444.8L481.49,444.6L481.74,444.4L481.99,444.1L482.24,443.9L482.49,443.7L482.74,443.4L482.99,443.2L483.24,443.0L483.49,442.7L483.74,442.2L483.99,441.6L484.24,440.9L484.49,440.3L484.74,439.7L484.99,439.1L485.24,438.4L485.49,437.8L485.74,437.2L485.99,436.7L486.24,436.2L486.49,435.7L486.74,435.2L486.99,434.7L487.24,434.2L487.49,433.2L487.74,432.1L487.99,431.1L488.24,430.0L488.49,429.0L488.74,428.3L488.99,426.9L489.24,428.7L489.49,433.2L489.74,433.2L489.99,433.2L490.24,433.0L490.49,432.3L490.74,431.6L490.99,430.1L491.24,426.7L491.49,423.2L491.74,419.7L491.99,416.5L492.24,413.3L492.49,410.1L492.64,408.5L492.74,409.5L492.99,412.1L493.24,419.5L493.49,422.6L493.74,425.8L493.99,427.7L494.24,427.7L494.49,427.7L494.74,425.8L494.99,421.8L495.24,417.7L495.49,413.3L495.74,406.1L495.99,398.9L496.24,384.3L496.49,379.0L496.59,376.8L496.74,380.0L496.99,387.4L497.24,397.6L497.49,406.6L497.74,414.1L497.99,419.0L498.24,419.0L498.49,419.0L498.74,416.9L498.99,411.6L499.24,406.2L499.49,399.9L499.74,392.8L499.99,385.7L500.24,379.9L500.39,377.4L500.49,379.1L500.74,383.3L500.99,401.4L501.24,411.7L501.49,419.3L501.74,426.0L501.99,431.7L502.24,434.2L502.49,436.7L502.74,439.2L502.99,440.8L503.24,441.3L503.49,441.8L503.74,442.3L503.99,442.8L504.24,443.3L504.49,443.8L504.74,444.3L504.99,444.8L505.24,444.9L505.49,445.0L505.74,445.1L505.99,445.2L506.24,445.3L506.49,445.4L506.74,445.5L506.99,445.7L507.24,445.8L507.49,445.9L507.74,446.0L507.99,446.1L508.24,446.2L508.49,446.2L508.49,446.6Z" fill="#000"/>
<text transform="translate(460.5,402.8)" font-size="12.6" textLength="20.4" lengthAdjust="spacingAndGlyphs" class="g">66.8</text>
<text transform="translate(26.7,464.8)" font-size="12.8" textLength="44" lengthAdjust="spacingAndGlyphs" class="g">CellTrace</text>
<line x1="87.5" y1="461.6" x2="511" y2="461.6" stroke="#000" stroke-width="2.2"/>
<polygon points="510,457.7 516.8,461.6 510,465.7" fill="#000"/>
</g>
<g id="panelD">
<text transform="translate(-1.6,502.9)" font-size="18" font-weight="bold">D</text>
<line x1="53.9" y1="508.8" x2="53.9" y2="648.6999999999999" stroke="#000" stroke-width="2.8"/>
<line x1="48.1" y1="647.3" x2="53.9" y2="647.3" stroke="#000" stroke-width="2.6"/>
<text transform="translate(44.4,652.3) scale(0.95,1)" font-size="12" text-anchor="end">0</text>
<line x1="48.1" y1="619.88" x2="53.9" y2="619.88" stroke="#000" stroke-width="2.6"/>
<text transform="translate(43.0,624.88) scale(0.95,1)" font-size="12" text-anchor="end">20</text>
<line x1="48.1" y1="592.4599999999999" x2="53.9" y2="592.4599999999999" stroke="#000" stroke-width="2.6"/>
<text transform="translate(43.0,597.46) scale(0.95,1)" font-size="12" text-anchor="end">40</text>
<line x1="48.1" y1="565.04" x2="53.9" y2="565.04" stroke="#000" stroke-width="2.6"/>
<text transform="translate(43.0,570.04) scale(0.95,1)" font-size="12" text-anchor="end">60</text>
<line x1="48.1" y1="537.62" x2="53.9" y2="537.62" stroke="#000" stroke-width="2.6"/>
<text transform="translate(43.0,542.62) scale(0.95,1)" font-size="12" text-anchor="end">80</text>
<line x1="48.1" y1="510.2" x2="53.9" y2="510.2" stroke="#000" stroke-width="2.6"/>
<text transform="translate(41.3,515.2) scale(0.95,1)" font-size="12" text-anchor="end">100</text>
<text transform="translate(11.3,570.6) rotate(-90)" font-size="12.4" text-anchor="middle">% of divided cells</text>
<rect x="208" y="491.7" width="16.6" height="10.5" fill="#fff" stroke="#000" stroke-width="2"/>
<text transform="translate(233.7,502)" font-size="12" textLength="18.8" lengthAdjust="spacingAndGlyphs">IL-2</text>
<rect x="279.2" y="490" width="18.8" height="13.3" fill="#000"/>
<text transform="translate(306.2,502)" font-size="12" textLength="67.2" lengthAdjust="spacingAndGlyphs">IL-2 + BrHPP</text>
<line x1="78.7" y1="585" x2="78.7" y2="596.3" stroke="#000" stroke-width="2.4"/>
<line x1="72.3" y1="585" x2="85.10000000000001" y2="585" stroke="#000" stroke-width="2.4"/>
<rect x="69.0" y="596.3" width="19.2" height="51.0" fill="#fff" stroke="#000" stroke-width="2.8"/>
<text transform="translate(81.3,658.6) rotate(-45)" font-size="12.8" text-anchor="end" class="b">IgG1</text>
<line x1="108.80000000000001" y1="550.5" x2="108.80000000000001" y2="556.6" stroke="#000" stroke-width="2.4"/>
<line x1="102.4" y1="550.5" x2="115.20000000000002" y2="550.5" stroke="#000" stroke-width="2.4"/>
<rect x="99.1" y="556.6" width="19.2" height="90.7" fill="#fff" stroke="#000" stroke-width="2.8"/>
<text transform="translate(108.3,549.1)" font-size="16" text-anchor="middle" font-weight="bold">*</text>
<text transform="translate(111.4,658.6) rotate(-45)" font-size="12.8" text-anchor="end" class="b">BTLA 8.2</text>
<line x1="138.9" y1="630.7" x2="138.9" y2="635.0" stroke="#000" stroke-width="2.4"/>
<line x1="132.5" y1="630.7" x2="145.3" y2="630.7" stroke="#000" stroke-width="2.4"/>
<rect x="129.2" y="635.0" width="19.2" height="12.3" fill="#fff" stroke="#000" stroke-width="2.8"/>
<text transform="translate(142.7,657.4) rotate(-45)" font-size="12.8" text-anchor="end" class="b">HVEM 11.8</text>
<line x1="169.0" y1="565" x2="169.0" y2="568" stroke="#000" stroke-width="2.4"/>
<line x1="162.6" y1="565" x2="175.4" y2="565" stroke="#000" stroke-width="2.4"/>
<rect x="159.3" y="568" width="19.2" height="79.3" fill="#fff" stroke="#000" stroke-width="2.8"/>
<text transform="translate(168.8,561.6)" font-size="16" text-anchor="middle" font-weight="bold">*</text>
<text transform="translate(173.0,657.2) rotate(-45)" font-size="12.8" text-anchor="end" class="b">HVEM 18.10</text>
<line x1="199.10000000000002" y1="611.5" x2="199.10000000000002" y2="619.2" stroke="#000" stroke-width="2.4"/>
<line x1="192.70000000000002" y1="611.5" x2="205.50000000000003" y2="611.5" stroke="#000" stroke-width="2.4"/>
<rect x="189.4" y="619.2" width="19.2" height="28.1" fill="#fff" stroke="#000" stroke-width="2.8"/>
<text transform="translate(198.3,613.3)" font-size="16" text-anchor="middle" font-weight="bold">*</text>
<text transform="translate(201.7,658.6) rotate(-45)" font-size="12.8" text-anchor="end" class="b">HVEM-Fc WT</text>
<line x1="229.2" y1="587.5" x2="229.2" y2="593.2" stroke="#000" stroke-width="2.4"/>
<line x1="222.79999999999998" y1="587.5" x2="235.6" y2="587.5" stroke="#000" stroke-width="2.4"/>
<rect x="219.5" y="593.2" width="19.2" height="54.1" fill="#fff" stroke="#000" stroke-width="2.8"/>
<text transform="translate(231.8,658.6) rotate(-45)" font-size="12.8" text-anchor="end" class="b">HVEM-Fc ΔCRD1</text>
<line x1="259.3" y1="582.5" x2="259.3" y2="587" stroke="#000" stroke-width="2.4"/>
<line x1="252.9" y1="582.5" x2="265.7" y2="582.5" stroke="#000" stroke-width="2.4"/>
<rect x="249.6" y="587" width="19.2" height="60.3" fill="#fff" stroke="#000" stroke-width="2.8"/>
<text transform="translate(261.9,658.6) rotate(-45)" font-size="12.8" text-anchor="end" class="b">HVEM-Fc V74A</text>
<line x1="309.2" y1="554.2" x2="309.2" y2="560.7" stroke="#000" stroke-width="2.4"/>
<line x1="302.8" y1="554.2" x2="315.59999999999997" y2="554.2" stroke="#000" stroke-width="2.4"/>
<rect x="298.0" y="560.7" width="22.4" height="86.6" fill="#000"/>
<text transform="translate(311.8,658.6) rotate(-45)" font-size="12.8" text-anchor="end" class="b">IgG1</text>
<line x1="339.25" y1="532" x2="339.25" y2="536.2" stroke="#000" stroke-width="2.4"/>
<line x1="332.85" y1="532" x2="345.65" y2="532" stroke="#000" stroke-width="2.4"/>
<rect x="328.05" y="536.2" width="22.4" height="111.1" fill="#000"/>
<text transform="translate(339.3,529.1)" font-size="16" text-anchor="middle" font-weight="bold">*</text>
<text transform="translate(342.65,658.6) rotate(-45)" font-size="12.8" text-anchor="end" class="b">BTLA 8.2</text>
<line x1="369.3" y1="600.2" x2="369.3" y2="605.6" stroke="#000" stroke-width="2.4"/>
<line x1="362.90000000000003" y1="600.2" x2="375.7" y2="600.2" stroke="#000" stroke-width="2.4"/>
<rect x="358.1" y="605.6" width="22.4" height="41.7" fill="#000"/>
<text transform="translate(369.3,597.2)" font-size="16" text-anchor="middle" font-weight="bold">*</text>
<text transform="translate(372.7,658.6) rotate(-45)" font-size="12.8" text-anchor="end" class="b">HVEM 11.8</text>
<line x1="399.35" y1="540" x2="399.35" y2="549" stroke="#000" stroke-width="2.4"/>
<line x1="392.95000000000005" y1="540" x2="405.75" y2="540" stroke="#000" stroke-width="2.4"/>
<rect x="388.15" y="549" width="22.4" height="98.3" fill="#000"/>
<text transform="translate(397.5,539.3)" font-size="16" text-anchor="middle" font-weight="bold">*</text>
<text transform="translate(405.45,658.6) rotate(-45)" font-size="12.8" text-anchor="end" class="b">HVEM 18.10</text>
<line x1="429.4" y1="575.2" x2="429.4" y2="581.7" stroke="#000" stroke-width="2.4"/>
<line x1="423.0" y1="575.2" x2="435.79999999999995" y2="575.2" stroke="#000" stroke-width="2.4"/>
<rect x="418.2" y="581.7" width="22.4" height="65.6" fill="#000"/>
<text transform="translate(429.2,576.8)" font-size="16" text-anchor="middle" font-weight="bold">*</text>
<text transform="translate(436.0,658.6) rotate(-45)" font-size="12.8" text-anchor="end" class="b">HVEM-Fc WT</text>
<line x1="459.45" y1="559.8" x2="459.45" y2="567.8" stroke="#000" stroke-width="2.4"/>
<line x1="453.05" y1="559.8" x2="465.84999999999997" y2="559.8" stroke="#000" stroke-width="2.4"/>
<rect x="448.25" y="567.8" width="22.4" height="79.5" fill="#000"/>
<text transform="translate(466.05,658.6) rotate(-45)" font-size="12.8" text-anchor="end" class="b">HVEM-Fc ΔCRD1</text>
<line x1="489.5" y1="547.5" x2="489.5" y2="553.7" stroke="#000" stroke-width="2.4"/>
<line x1="483.1" y1="547.5" x2="495.9" y2="547.5" stroke="#000" stroke-width="2.4"/>
<rect x="478.3" y="553.7" width="22.4" height="93.6" fill="#000"/>
<text transform="translate(492.1,658.6) rotate(-45)" font-size="12.8" text-anchor="end" class="b">HVEM-Fc V74A</text>
<line x1="52.5" y1="647.3" x2="516" y2="647.3" stroke="#000" stroke-width="2.8"/>
</g>
</svg></body></html>
